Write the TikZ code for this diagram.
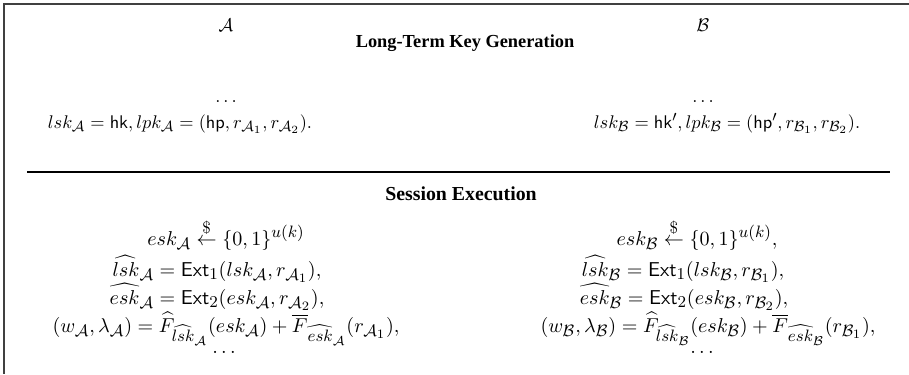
\documentclass[tikz,border=0pt]{standalone}
\usepackage{amsmath,amssymb}
\usepackage[no-math]{fontspec}
\DeclareMathSizes{10}{10}{8}{6}
\DeclareMathSizes{11}{11}{9.2}{7.5}
\newfontfamily\headfont{Liberation Serif}
\begin{document}
\begin{tikzpicture}[x=0.545pt,y=-0.545pt,
  head/.style={font=\headfont\bfseries, inner sep=0pt, anchor=base},
  eq/.style={inner sep=0pt, anchor=base, font=\fontsize{10}{12}\selectfont},
  eqbig/.style={inner sep=0pt, anchor=base, font=\fontsize{11}{13}\selectfont},
  frame/.style={draw=black!75, line width=0.8pt},
  rule/.style={draw=black, line width=0.6pt}]
\useasboundingbox (0,0) rectangle (909,374);
% frame
\coordinate (tl) at (4,4);
\coordinate (tr) at (909,4);
\coordinate (bl) at (4,374);
\draw[frame] (tr) -- (tl) -- (bl);
% separator
\coordinate (ml) at (27,172);
\coordinate (mr) at (890,172);
\draw[rule] (ml) -- (mr);
% parties
\node[eq] (pa) at (226,31) {$\mathcal{A}$};
\node[eq] (pb) at (703,31) {$\mathcal{B}$};
% long-term key generation
\node[head] (h1) at (465,47) {Long-Term Key Generation};
\node[eq] (d1a) at (226,102) {$\ldots$};
\node[eq] (d1b) at (703,102) {$\ldots$};
\node[eq] (la) at (180,128) {$lsk_{\mathcal{A}} = \mathsf{hk}, lpk_{\mathcal{A}} = (\mathsf{hp}, r_{\mathcal{A}_1}, r_{\mathcal{A}_2}).$};
\node[eq] (lb) at (727,128) {$lsk_{\mathcal{B}} = \mathsf{hk}', lpk_{\mathcal{B}} = (\mathsf{hp}', r_{\mathcal{B}_1}, r_{\mathcal{B}_2}).$};
% session execution
\node[head, font=\headfont\bfseries\fontsize{10.8}{12}\selectfont] (h2) at (461,200) {Session Execution};
\node[eqbig] (a1) at (226,245) {$esk_{\mathcal{A}} \overset{\$}{\leftarrow} \{0,1\}^{u(k)}$};
\node[eqbig] (a2) at (217,276) {$\widehat{lsk}_{\mathcal{A}} = \mathsf{Ext}_1(lsk_{\mathcal{A}}, r_{\mathcal{A}_1}),$};
\node[eqbig] (a3) at (217,304) {$\widehat{esk}_{\mathcal{A}} = \mathsf{Ext}_2(esk_{\mathcal{A}}, r_{\mathcal{A}_2}),$};
\node[eqbig] (a4) at (226,332) {$(w_{\mathcal{A}}, \lambda_{\mathcal{A}}) = \widehat{F}_{\widehat{lsk}_{\mathcal{A}}}(esk_{\mathcal{A}}) + \overline{F}_{\widehat{esk}_{\mathcal{A}}}(r_{\mathcal{A}_1}),$};
\node[eqbig] (a5) at (224,353) {$\ldots$};
\node[eqbig] (b1) at (697,245) {$esk_{\mathcal{B}} \overset{\$}{\leftarrow} \{0,1\}^{u(k)},$};
\node[eqbig] (b2) at (683,276) {$\widehat{lsk}_{\mathcal{B}} = \mathsf{Ext}_1(lsk_{\mathcal{B}}, r_{\mathcal{B}_1}),$};
\node[eqbig] (b3) at (684,304) {$\widehat{esk}_{\mathcal{B}} = \mathsf{Ext}_2(esk_{\mathcal{B}}, r_{\mathcal{B}_2}),$};
\node[eqbig] (b4) at (708,332) {$(w_{\mathcal{B}}, \lambda_{\mathcal{B}}) = \widehat{F}_{\widehat{lsk}_{\mathcal{B}}}(esk_{\mathcal{B}}) + \overline{F}_{\widehat{esk}_{\mathcal{B}}}(r_{\mathcal{B}_1}),$};
\node[eqbig] (b5) at (702,353) {$\ldots$};
\end{tikzpicture}
\end{document}
